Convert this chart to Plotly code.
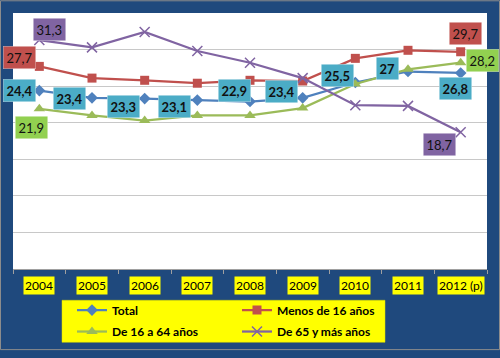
import plotly.graph_objects as go

years = ["2004", "2005", "2006", "2007", "2008", "2009", "2010", "2011", "2012 (p)"]
total = [24.4, 23.4, 23.3, 23.1, 22.9, 23.4, 25.5, 27.0, 26.8]
menos16 = [27.7, 26.1, 25.8, 25.4, 25.8, 25.7, 28.8, 29.9, 29.7]
de16a64 = [21.9, 21.0, 20.3, 21.0, 21.0, 22.0, 25.3, 27.3, 28.2]
de65 = [31.3, 30.3, 32.4, 29.8, 28.2, 26.1, 22.4, 22.3, 18.7]
names = ["Total", "Menos de 16 años", "De 16 a 64 años", "De 65 y más años"]

FONT = "Lato, Calibri, sans-serif"
BG = "#1F497D"

def fmt(v):
    return f"{v:g}".replace(".", ",")

fig = go.Figure()
series = [
    (names[0], total, "#4F81BD", dict(symbol="diamond", size=9), "legend"),
    (names[1], menos16, "#C0504D", dict(symbol="square", size=9), "legend"),
    (names[2], de16a64, "#9BBB59", dict(symbol="triangle-up", size=10), "legend2"),
    (names[3], de65, "#8064A2", dict(symbol="x-thin", size=10, line=dict(width=1.5, color="#8064A2")), "legend2"),
]
for name, vals, col, mk, lg in series:
    fig.add_trace(go.Scatter(x=years, y=vals, name=name, mode="lines+markers",
                             line=dict(color=col, width=2.25), legend=lg,
                             marker=dict(color=col, **mk)))

# data labels: (series values, index, bg color, bold, xshift, yshift)
label_specs = []
total_offsets = [(-20, 0), (-23, -1), (-21, -8), (-23, -6), (-16, 11), (-21, 6), (-18, 7), (-21, 3), (-5, -16)]
for i, (dx, dy) in enumerate(total_offsets):
    label_specs.append((total, i, "#4BACC6", True, dx, dy))
label_specs += [
    (menos16, 0, "#C0504D", False, -20, 9),
    (menos16, 8, "#C0504D", False, 5, 18),
    (de16a64, 0, "#92D050", False, -8, -19),
    (de16a64, 8, "#92D050", False, 22, 2),
    (de65, 0, "#8064A2", False, 10, 11),
    (de65, 8, "#8064A2", False, -21, -12),
]
annotations = []
for vals, i, col, bold, dx, dy in label_specs:
    txt = fmt(vals[i])
    if bold:
        txt = f"<b>{txt}</b>"
    annotations.append(dict(x=i, y=vals[i], xref="x", yref="y", text=txt,
                            showarrow=False, xshift=dx, yshift=dy,
                            bgcolor=col, borderpad=3, bordercolor="rgba(255,255,255,0.6)", borderwidth=0.5,
                            font=dict(family=FONT, size=13, color="#111111")))
# x tick labels with yellow highlight
for i, y in enumerate(years):
    annotations.append(dict(x=i, y=-0.063, xref="x", yref="paper", text=y, showarrow=False,
                            yanchor="middle", bgcolor="#FFFF00", borderpad=1,
                            font=dict(family=FONT, size=12, color="black")))

W, H = 500, 358
L, R, T, B = 13, 13, 13, 83
pw, ph = W - L - R, H - T - B

def px_x(v):
    return (v - L) / pw

def px_y(v):
    return (H - B - v) / ph

leg_common = dict(orientation="h", x=px_x(72), xanchor="left", yanchor="middle",
                  bgcolor="rgba(0,0,0,0)", entrywidth=120,
                  font=dict(family=FONT, size=12, color="black", weight="bold"),
                  itemwidth=30)
fig.update_layout(
    width=W, height=H,
    margin=dict(l=L, r=R, t=T, b=B),
    paper_bgcolor=BG, plot_bgcolor="white",
    showlegend=True,
    legend=dict(y=px_y(317), **leg_common),
    legend2=dict(y=px_y(339), **leg_common),
    annotations=annotations,
    shapes=[
        dict(type="rect", xref="paper", yref="paper",
             x0=px_x(0.5), x1=px_x(W - 0.5), y0=px_y(H - 0.5), y1=px_y(0.5),
             line=dict(color="#8C8C8C", width=1), layer="below"),
        dict(type="rect", xref="paper", yref="paper",
             x0=px_x(62), x1=px_x(385), y0=px_y(350), y1=px_y(307),
             fillcolor="#FFFF00", line=dict(color="#D9D900", width=0.5), layer="below"),
    ],
    xaxis=dict(type="category", showticklabels=False, ticks="outside", tickson="boundaries",
               ticklen=4, tickcolor="#A0A0A0", showline=True, linecolor="#A0A0A0",
               showgrid=False, range=[-0.5, 8.5], fixedrange=True),
    yaxis=dict(range=[0, 35], dtick=5, showticklabels=False, showgrid=True,
               gridcolor="#C8C8C8", gridwidth=1, zeroline=False, showline=False, fixedrange=True),
)
fig.write_html("out.html", config={"displayModeBar": False},
               post_script="document.body.style.margin='0';")
